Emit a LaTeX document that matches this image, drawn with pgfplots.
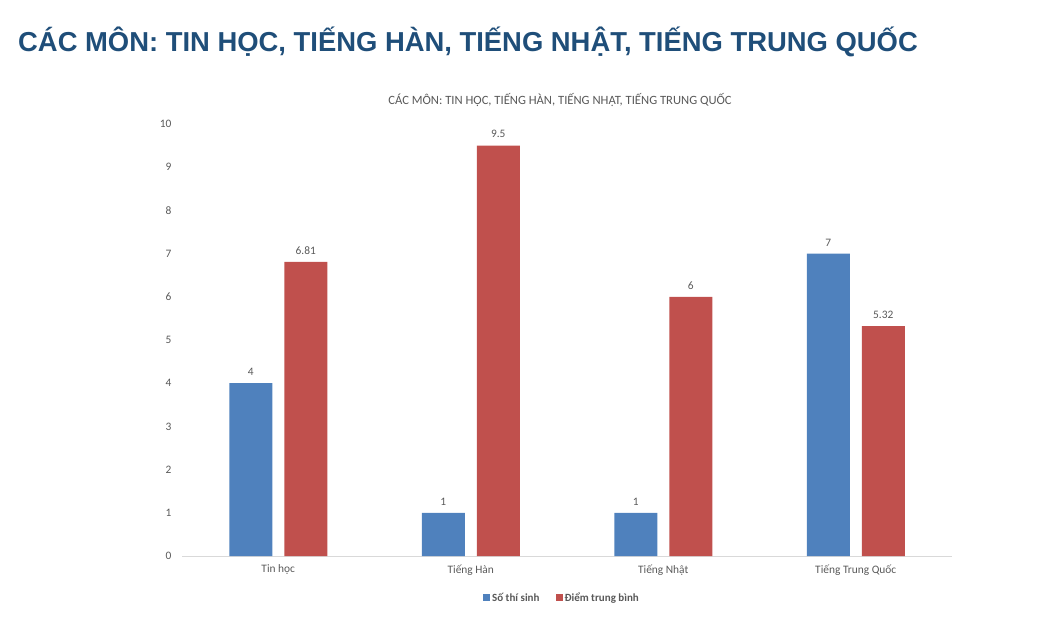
\documentclass[border=0pt]{standalone}
\usepackage{fontspec}
\setmainfont{Carlito}
\newfontfamily\arialfont{Liberation Sans}
\usepackage{pgfplots}
\pgfplotsset{compat=1.18}
\definecolor{titleblue}{HTML}{1F4E79}
\definecolor{serA}{HTML}{4F81BD}
\definecolor{serB}{HTML}{C0504D}
\definecolor{txtgray}{HTML}{595959}
\definecolor{axgray}{HTML}{D9D9D9}
\begin{document}
\begin{tikzpicture}
\path[use as bounding box] (0pt,0pt) rectangle (1044pt,-620pt);
\node[anchor=base west, font=\arialfont\bfseries\fontsize{27.4}{30}\selectfont,
  text=titleblue, inner sep=0] at (18pt,-52pt)
  {CÁC MÔN: TIN HỌC, TIẾNG HÀN, TIẾNG NHẬT, TIẾNG TRUNG QUỐC};
\begin{axis}[
  at={(182pt,-556pt)}, anchor=south west,
  scale only axis, width=770pt, height=432pt,
  xmin=-0.5, xmax=3.5, ymin=0, ymax=10,
  ybar=12pt, bar width=43pt,
  axis lines=left,
  y axis line style={draw=none},
  x axis line style={-, draw=axgray, line width=0.8pt},
  major tick length=0pt, tick style={draw=none},
  ytick={0,1,...,10},
  xtick={0,1,2,3},
  xticklabels={Tin học, Tiếng Hàn, Tiếng Nhật, Tiếng Trung Quốc},
  /pgf/number format/assume math mode=true,
  tick label style={font=\fontsize{11.4}{13}\selectfont, text=txtgray},
  xticklabel style={yshift=-5pt},
  yticklabel style={xshift=-7pt},
  title={CÁC MÔN: TIN HỌC, TIẾNG HÀN, TIẾNG NHẬT, TIẾNG TRUNG QUỐC},
  title style={at={(0.5,1)}, anchor=center, yshift=18pt, xshift=-7pt,
    font=\fontsize{12.6}{14}\selectfont, text=txtgray},
  nodes near coords,
  nodes near coords style={font=\fontsize{11.4}{13}\selectfont, text=txtgray, yshift=4pt},
  legend style={at={(0.5,-0.097)}, anchor=center, xshift=-5pt, draw=none,
    legend columns=2, font=\bfseries\fontsize{11}{13}\selectfont, text=txtgray,
    /tikz/every even column/.append style={column sep=14pt}},
  legend image code/.code={\fill[#1] (0pt,-3.5pt) rectangle (7pt,3.5pt);},
]
\addplot[fill=serA, draw=none] coordinates {(0,4) (1,1) (2,1) (3,7)};
\addplot[fill=serB, draw=none] coordinates {(0,6.81) (1,9.5) (2,6) (3,5.32)};
\legend{Số thí sinh, Điểm trung bình}
\end{axis}
\end{tikzpicture}
\end{document}
